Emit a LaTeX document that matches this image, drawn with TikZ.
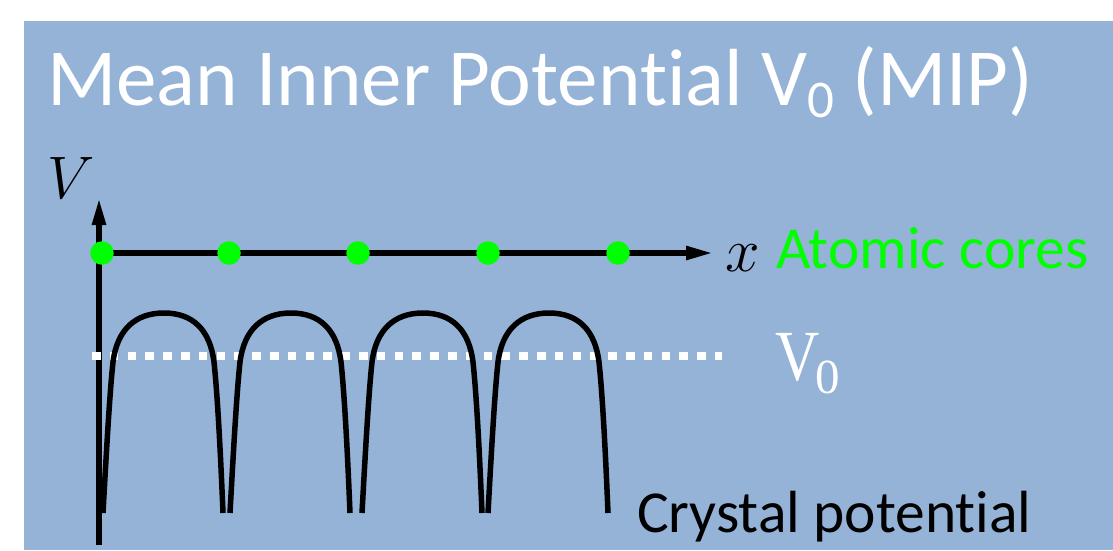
\RequirePackage{fix-cm}
\documentclass[tikz,border=0pt]{standalone}
\usepackage{graphicx}
\usepackage[no-math]{fontspec}
\setmainfont{Carlito}[RawFeature={-liga;-clig;-calt;-dlig}]
\newfontfamily\tnr{Liberation Serif}
\usetikzlibrary{arrows.meta}
\definecolor{bgblue}{HTML}{95B3D7}
\definecolor{lime}{HTML}{00FF00}
\tikzset{
  txt/.style={inner sep=0pt, outer sep=0pt, anchor=base west},
  axisline/.style={line width=5.5pt, -{Triangle[length=27pt,width=13pt]}},
  core/.style={circle, fill=lime, minimum size=23.5pt, inner sep=0pt},
  potline/.style={line width=5.5pt, black},
  mipline/.style={white, line width=8.5pt, dash pattern=on 8.5pt off 9.3pt}
}
\begin{document}
\begin{tikzpicture}[x=1pt,y=-1pt]
\useasboundingbox (0,0) rectangle (1113,550);
\fill[bgblue] (24,21) rectangle (1113,550);
% title
\node[txt, white] (title) at (47,105) {\fontsize{81}{96}\selectfont Mean Inner Potent\kern0pt ial V\raisebox{-0.16em}{\fontsize{53}{60}\selectfont 0} (MIP)};
% axes
\coordinate (o) at (99,253);
\coordinate (vb) at (99,545);
\coordinate (vt) at (99,198);
\coordinate (xe) at (713,253);
\draw[axisline] (vb) -- (vt);
\draw[axisline] (o) -- (xe);
\node[txt] (vlab) at (47,198) {\fontsize{60}{72}\selectfont $V$};
\node[txt] (xlab) at (725,271) {\fontsize{62}{72}\selectfont $x$};
% mean inner potential line
\coordinate (ml) at (92,356);
\coordinate (mr) at (722,356);
\draw[mipline] (ml) -- (mr);
% crystal potential arches
\foreach \a in {103,230,362,488}{
  \draw[potline] (\a,513) .. controls (\a+4,440) and (\a+7,390) .. (\a+10,362)
    .. controls (\a+14,330) and (\a+32,313) .. (\a+61,313)
    .. controls (\a+90,313) and (\a+107,330) .. (\a+111,362)
    .. controls (\a+114,390) and (\a+117,440) .. (\a+120,513);
}
% atomic cores
\node[core] (d1) at (102,253) {};
\node[core] (d2) at (229,253) {};
\node[core] (d3) at (358,253) {};
\node[core] (d4) at (488,253) {};
\node[core] (d5) at (618,253) {};
% labels
\node[txt, text=lime] (cores) at (776,268) {\fontsize{59.5}{70}\selectfont Atomic cores};
\node[txt, text=white] (v0) at (775,380) {\tnr\fontsize{72}{80}\selectfont \scalebox{0.85}[1]{V}\kern-4pt\raisebox{-13pt}{\fontsize{49}{56}\selectfont 0}};
\node[txt] (cryst) at (637,532) {\fontsize{59.5}{70}\selectfont Crystal potent\kern0pt ial};
\end{tikzpicture}
\end{document}
